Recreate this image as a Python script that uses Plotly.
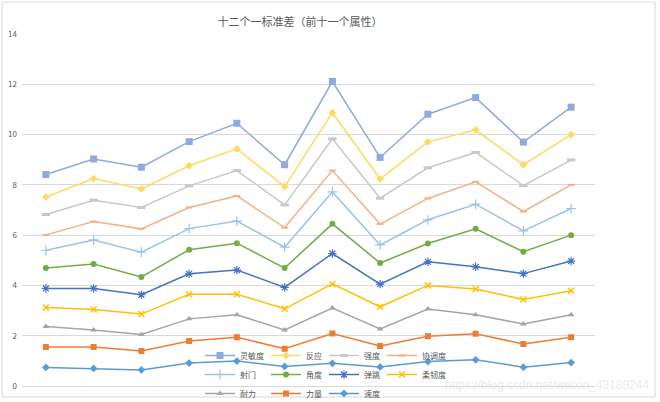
import plotly.graph_objects as go

# twelve groups, x axis has no labels in the original chart
groups = ["1", "2", "3", "4", "5", "6", "7", "8", "9", "10", "11", "12"]

# series in Excel order (series 1 is drawn first / bottom of legend)
speed = [0.74, 0.70, 0.64, 0.91, 0.99, 0.78, 0.90, 0.76, 0.97, 1.04, 0.75, 0.93]
power = [1.55, 1.55, 1.39, 1.79, 1.94, 1.48, 2.09, 1.59, 1.98, 2.08, 1.67, 1.94]
stamina = [2.37, 2.23, 2.05, 2.67, 2.83, 2.23, 3.10, 2.27, 3.06, 2.83, 2.47, 2.83]
s4 = [3.12, 3.04, 2.86, 3.65, 3.65, 3.07, 4.06, 3.15, 4.00, 3.86, 3.44, 3.79]
s5 = [3.88, 3.88, 3.63, 4.46, 4.61, 3.92, 5.27, 4.05, 4.94, 4.74, 4.47, 4.97]
s6 = [4.69, 4.85, 4.34, 5.42, 5.68, 4.69, 6.45, 4.89, 5.67, 6.25, 5.34, 6.00]
s7 = [5.40, 5.81, 5.32, 6.26, 6.56, 5.52, 7.72, 5.61, 6.61, 7.23, 6.17, 7.06]
s8 = [6.01, 6.54, 6.25, 7.10, 7.56, 6.30, 8.57, 6.44, 7.46, 8.12, 6.94, 8.00]
s9 = [6.82, 7.39, 7.10, 7.96, 8.57, 7.20, 9.83, 7.47, 8.68, 9.29, 7.97, 8.99]
s10 = [7.52, 8.25, 7.84, 8.76, 9.43, 7.93, 10.87, 8.24, 9.71, 10.19, 8.80, 10.00]
s11 = [8.41, 9.03, 8.70, 9.72, 10.45, 8.80, 12.11, 9.09, 10.81, 11.47, 9.70, 11.09]

names = ["速度", "力量", "耐力", "柔韧度", "弹跳", "角度", "射门",
         "协调度", "强度", "反应", "灵敏度"]
values = [speed, power, stamina, s4, s5, s6, s7, s8, s9, s10, s11]

colors = ["#5B9BD5", "#ED7D31", "#A5A5A5", "#FFC000", "#4472C4", "#70AD47",
          "#9DC3E6", "#F4B183", "#C9C9C9", "#FFD966", "#8FAADC"]
symbols = ["diamond", "square", "triangle-up", "x-thin-open", "asterisk-open",
           "circle", "cross-thin-open", "line-ew-open", "line-ew-open",
           "diamond", "square"]
sizes = [6, 6, 6, 6, 7, 6, 7, 5, 6, 6, 7]
mlw = [0, 0, 0, 1.5, 1.2, 0, 1.2, 2, 3, 0, 0]
# legend column of each series (Excel lists them reversed, 4 per row)
legend_col = ["legend3", "legend2", "legend", "legend4", "legend3", "legend2",
              "legend", "legend4", "legend3", "legend2", "legend"]

fig = go.Figure()
for i in range(len(names)):
    fig.add_trace(go.Scatter(
        x=groups, y=values[i], name=names[i], mode="lines+markers",
        line=dict(color=colors[i], width=1.5),
        marker=dict(symbol=symbols[i], size=sizes[i], color=colors[i],
                    line=dict(color=colors[i], width=mlw[i])),
        legend=legend_col[i], legendrank=100 - i,
    ))

# plot area spans px 22..595 horizontally, 34..386 vertically
def px_x(p):
    return (p - 22) / 573.0

def px_y(p):
    return (386 - p) / 352.0

leg_font = dict(family="Noto Sans CJK SC", size=8, color="#595959")
leg_common = dict(orientation="v", bgcolor="rgba(0,0,0,0)", font=leg_font,
                  xanchor="left", yanchor="top", y=px_y(341), itemwidth=30,
                  traceorder="normal")

fig.update_layout(
    width=660, height=402,
    margin=dict(l=22, r=65, t=34, b=16, autoexpand=False),
    paper_bgcolor="white", plot_bgcolor="white",
    font=dict(family="Noto Sans CJK SC", color="#595959"),
    title=dict(text="十二个一标准差（前十一个属性）", x=300 / 660, xref="container",
               xanchor="center", y=1 - 22 / 402, yanchor="middle",
               font=dict(size=11, color="#595959")),
    xaxis=dict(type="category", range=[-0.5, 11.5], showticklabels=False,
               showgrid=False, zeroline=False, showline=False, ticks=""),
    yaxis=dict(range=[0, 14], dtick=2, gridcolor="#D9D9D9", gridwidth=1,
               zeroline=True, zerolinecolor="#D9D9D9", zerolinewidth=1,
               showline=False, ticks="", ticklabelstandoff=4,
               tickfont=dict(size=8, color="#595959")),
    legend=dict(x=px_x(200), **leg_common),
    legend2=dict(x=px_x(266), **leg_common),
    legend3=dict(x=px_x(324), **leg_common),
    legend4=dict(x=px_x(382), **leg_common),
    showlegend=True,
)

# outer chart border
fig.add_shape(type="rect", xref="paper", yref="paper",
              x0=px_x(2), x1=px_x(655), y0=px_y(397), y1=px_y(2),
              line=dict(color="#D9D9D9", width=1), layer="below")

# blog watermark present on the screenshot
fig.add_annotation(text="https://blog.csdn.net/weixin_43189244", xref="paper",
                   yref="paper", x=px_x(651), y=px_y(385), xanchor="right",
                   yanchor="middle", showarrow=False,
                   font=dict(family="Liberation Sans", size=12,
                             color="rgba(215,215,215,0.5)"))

# page body has a default 8px margin; drop it so the figure sits at 0,0
fig.write_html("out.html", config={"displayModeBar": False},
               post_script="document.body.style.margin='0';")
